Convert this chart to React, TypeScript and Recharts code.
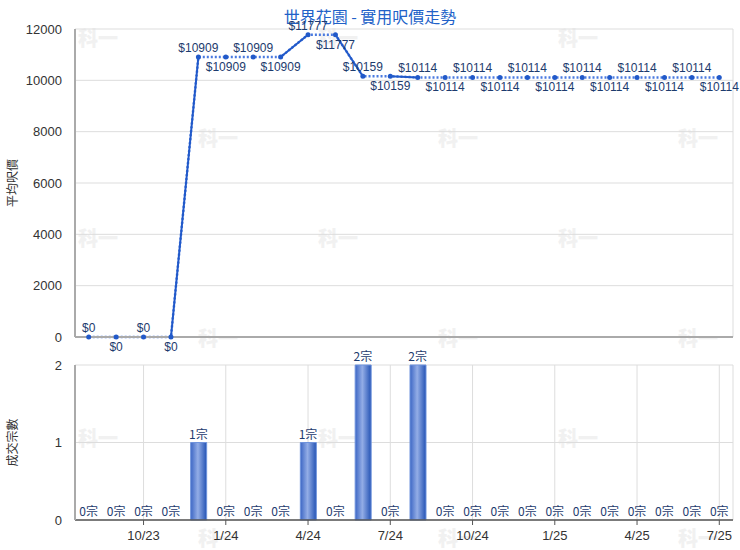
import {
  ComposedChart,
  Line,
  Bar,
  XAxis,
  YAxis,
  CartesianGrid,
  LabelList,
} from "recharts";

const months = [
  "8/23", "9/23", "10/23", "11/23", "12/23",
  "1/24", "2/24", "3/24", "4/24", "5/24", "6/24", "7/24", "8/24", "9/24", "10/24", "11/24", "12/24",
  "1/25", "2/25", "3/25", "4/25", "5/25", "6/25", "7/25",
];

const avgPrice = [
  0, 0, 0, 0, 10909,
  10909, 10909, 10909, 11777, 11777, 10159, 10159, 10114, 10114, 10114, 10114, 10114,
  10114, 10114, 10114, 10114, 10114, 10114, 10114,
];

const deals = [
  0, 0, 0, 0, 1,
  0, 0, 0, 1, 0, 2, 0, 2, 0, 0, 0, 0,
  0, 0, 0, 0, 0, 0, 0,
];

const quarterTicks = ["10/23", "1/24", "4/24", "7/24", "10/24", "1/25", "4/25", "7/25"];
const priceTicks = [0, 2000, 4000, 6000, 8000, 10000, 12000];
const dealTicks = [0, 1, 2];

const title = "世界花園 - 實用呎價走勢";

// solid segments end where a deal happened; split them into series that don't touch
const solidKeys: string[] = [];
const solidSets: number[][] = [];
deals.forEach((d, i) => {
  if (d <= 0 || i === 0) return;
  let k = solidSets.findIndex((s) => s[s.length - 1] < i - 2);
  if (k < 0) {
    solidSets.push([]);
    k = solidSets.length - 1;
  }
  solidSets[k].push(i - 1, i);
});
solidSets.forEach((_, k) => solidKeys.push("solid" + k));

const data = months.map((m, i) => {
  const row: Record<string, any> = { month: m, price: avgPrice[i], deals: deals[i] };
  solidSets.forEach((s, k) => {
    row["solid" + k] = s.includes(i) ? avgPrice[i] : null;
  });
  return row;
});

const FONT = '"Liberation Sans", Arial, "Noto Sans CJK TC", sans-serif';
const CJK = '"Noto Sans CJK TC", "Liberation Sans", sans-serif';
const LINE = "#2159c9";
const LABEL = "#1d3b6e";

const marks = [
  [100, 35], [340, 35], [580, 35],
  [220, 135], [460, 135], [700, 135],
  [100, 235], [340, 235], [580, 235],
  [220, 335], [460, 335], [700, 335],
  [100, 435], [340, 435], [580, 435],
  [220, 535], [460, 535], [700, 535],
];

function PriceLabel(props: any) {
  const { x, y, value, index } = props;
  const above = index % 2 === 0;
  return (
    <text
      x={x}
      y={above ? y - 5 : y + 14}
      textAnchor="middle"
      fontSize={12}
      fill={LABEL}
      fontFamily={FONT}
    >
      {"$" + value}
    </text>
  );
}

function DealLabel(props: any) {
  const { x, y, value } = props;
  return (
    <text x={x} y={y - 4} textAnchor="middle" fontSize={12} fill={LABEL} fontFamily={CJK}>
      {value + "宗"}
    </text>
  );
}

export default function App() {
  return (
    <div
      style={{
        position: "absolute",
        left: 0,
        top: 0,
        width: 740,
        height: 550,
        overflow: "hidden",
        background: "#fff",
        fontFamily: FONT,
      }}
    >
      <style>{`.recharts-surface{overflow:visible}`}</style>
      {marks.map(([x, y], i) => (
        <div
          key={i}
          style={{
            position: "absolute",
            left: x - 22,
            top: y - 12,
            fontFamily: CJK,
            fontWeight: 900,
            fontSize: 20,
            color: "#f1f1f1",
          }}
        >
          科一
        </div>
      ))}
      <div
        style={{
          position: "absolute",
          left: 0,
          top: 4,
          width: 740,
          textAlign: "center",
          fontFamily: CJK,
          fontSize: 16,
          color: "#2161c8",
        }}
      >
        {title}
      </div>

      <div style={{ position: "absolute", left: 0, top: 0 }}>
        <ComposedChart
          width={740}
          height={345}
          data={data}
          margin={{ top: 29, right: 7, bottom: 7, left: 0 }}
        >
          <CartesianGrid stroke="#dddddd" />
          <XAxis
            dataKey="month"
            scale="band"
            ticks={quarterTicks}
            interval={0}
            tick={false}
            tickLine={false}
            height={1}
            axisLine={{ stroke: "#aaaaaa", strokeWidth: 2 }}
          />
          <YAxis
            domain={[0, 12000]}
            ticks={priceTicks}
            interval={0}
            width={75}
            tickLine={false}
            tickMargin={7}
            axisLine={{ stroke: "#aaaaaa", strokeWidth: 2 }}
            tick={{ fill: "#333", fontSize: 13, fontFamily: FONT }}
            label={{
              value: "平均呎價",
              angle: -90,
              position: "insideLeft",
              offset: 13,
              style: { fill: "#333", fontSize: 12, fontFamily: CJK, textAnchor: "middle" },
            }}
          />
          <Line
            dataKey="price"
            stroke="#4a7ae0"
            strokeWidth={2.5}
            strokeDasharray="2 2"
            dot={{ r: 2.5, fill: LINE, stroke: "none" }}
            activeDot={false}
            isAnimationActive={false}
          >
            <LabelList dataKey="price" content={<PriceLabel />} />
          </Line>
          {solidKeys.map((k) => (
            <Line
              key={k}
              dataKey={k}
              stroke={LINE}
              strokeWidth={2}
              dot={false}
              activeDot={false}
              connectNulls={false}
              isAnimationActive={false}
            />
          ))}
        </ComposedChart>
      </div>

      <div style={{ position: "absolute", left: 0, top: 345 }}>
        <ComposedChart
          width={740}
          height={205}
          data={data}
          margin={{ top: 20, right: 7, bottom: 0, left: 0 }}
        >
          <defs>
            <linearGradient id="barFill" x1="0" y1="0" x2="1" y2="0">
              <stop offset="0%" stopColor="#3c66c4" />
              <stop offset="45%" stopColor="#93ade6" />
              <stop offset="100%" stopColor="#2453b4" />
            </linearGradient>
          </defs>
          <CartesianGrid stroke="#dddddd" />
          <XAxis
            dataKey="month"
            scale="band"
            ticks={quarterTicks}
            interval={0}
            height={30}
            tickSize={5}
            tickMargin={6}
            tickLine={{ stroke: "#555" }}
            axisLine={{ stroke: "#555", strokeWidth: 1.5 }}
            tick={{ fill: "#333", fontSize: 13, fontFamily: FONT }}
          />
          <YAxis
            domain={[0, 2]}
            ticks={dealTicks}
            interval={0}
            width={75}
            tickLine={false}
            tickMargin={7}
            axisLine={{ stroke: "#aaaaaa", strokeWidth: 2 }}
            tick={{ fill: "#333", fontSize: 13, fontFamily: FONT }}
            label={{
              value: "成交宗數",
              angle: -90,
              position: "insideLeft",
              offset: 13,
              style: { fill: "#333", fontSize: 12, fontFamily: CJK, textAnchor: "middle" },
            }}
          />
          <Bar
            dataKey="deals"
            barSize={16}
            fill="url(#barFill)"
            stroke="#6f93dc"
            strokeWidth={1}
            isAnimationActive={false}
          />
          <Line
            dataKey="deals"
            stroke="none"
            dot={false}
            activeDot={false}
            isAnimationActive={false}
          >
            <LabelList dataKey="deals" content={<DealLabel />} />
          </Line>
        </ComposedChart>
      </div>
    </div>
  );
}
